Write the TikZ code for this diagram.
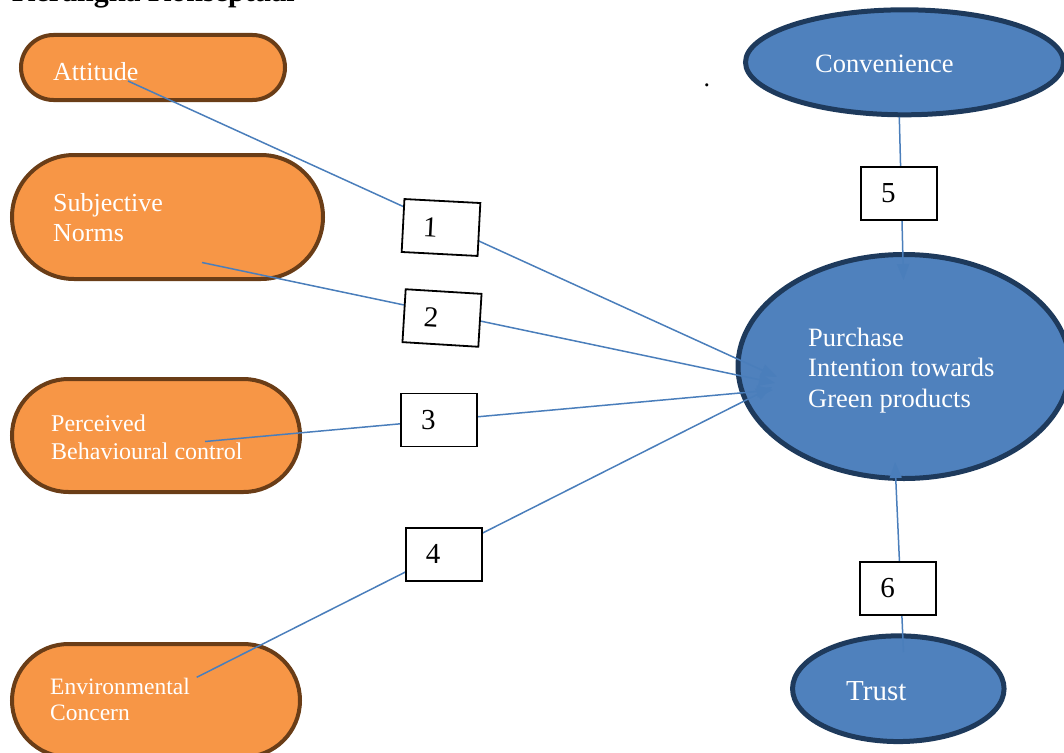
\documentclass[tikz,border=0pt]{standalone}
\usepackage{fontspec}
\setmainfont{Liberation Serif}
\usetikzlibrary{shapes.geometric,arrows.meta}
\definecolor{orfill}{HTML}{F79646}
\definecolor{orline}{HTML}{6A3D17}
\definecolor{blfill}{HTML}{4F81BD}
\definecolor{blline}{HTML}{1E3A5C}
\definecolor{conn}{HTML}{4A7EBB}
\tikzset{
  pill/.style={draw=orline, fill=orfill, line width=4pt, rounded corners=#1, inner sep=0pt},
  oval/.style={ellipse, draw=blline, fill=blfill, line width=5pt, inner sep=0pt},
  lbl/.style={text=white, anchor=base west, inner sep=0pt, align=left},
  numbox/.style={draw=black, fill=white, line width=1.8pt, minimum width=76pt, minimum height=53pt,
    inner xsep=20pt, inner ysep=0pt, text width=36pt, align=left, font=\fontsize{29}{30}\selectfont},
  conline/.style={draw=conn, line width=1.5pt},
  conarrow/.style={conline, -{Triangle[length=16pt,width=12pt]}}
}
\begin{document}
\begin{tikzpicture}[x=1pt,y=-1pt]
\useasboundingbox (0,0) rectangle (1064,752);
\clip (0,0) rectangle (1064,752);
% title (cut off at top)
\node[anchor=base west, inner sep=0pt, font=\fontsize{30}{32}\selectfont\bfseries] (title) at (12,2) {Kerangka Konseptual};
% left shapes
\node[pill=32.5pt, minimum width=264pt, minimum height=65pt] (att) at (153,67.5) {};
\node[pill=62pt, minimum width=311pt, minimum height=124pt] (sub) at (167.5,217) {};
\node[pill=56.5pt, minimum width=288pt, minimum height=113pt] (pbc) at (156,435.5) {};
\node[pill=56.5pt, minimum width=288pt, minimum height=113pt] (env) at (156,700.5) {};
% right ovals
\node[oval, minimum width=318pt, minimum height=105pt] (conv) at (904.5,62.3) {};
\node[oval, minimum width=332pt, minimum height=224pt] (pi) at (904,366.5) {};
\node[oval, minimum width=211.5pt, minimum height=105.7pt] (trust) at (898.3,688.7) {};
% labels (anchor = baseline of last line)
\node[lbl, font=\fontsize{26}{30}\selectfont] (attl) at (53,80.5) {Attitude};
\node[lbl, font=\fontsize{26}{30}\selectfont] (subl) at (53,241.7) {Subjective\\Norms};
\node[lbl, font=\fontsize{24}{28}\selectfont] (pbcl) at (51,459) {Perceived\\Behavioural control};
\node[lbl, font=\fontsize{23.5}{26}\selectfont] (envl) at (50,720) {Environmental\\Concern};
\node[lbl, font=\fontsize{26.5}{30}\selectfont] (convl) at (815,72.7) {Convenience};
\node[lbl, font=\fontsize{26.5}{30.5}\selectfont] (pil) at (808,407) {Purchase\\Intention towards\\Green products};
\node[lbl, font=\fontsize{29}{30}\selectfont] (trustl) at (846,700) {Trust};
\node[anchor=base west, inner sep=0pt, font=\fontsize{26}{30}\selectfont] (dot) at (703.5,86) {.};
% connector end points
\coordinate (a1) at (128,81);
\coordinate (t1) at (777,377);
\coordinate (a2) at (202,262.5);
\coordinate (t2) at (775,383);
\coordinate (a3) at (205,441.5);
\coordinate (t3) at (773,390);
\coordinate (a4) at (196.7,677.3);
\coordinate (t4) at (772,387);
\coordinate (a5) at (899.3,117);
\coordinate (t5) at (903.5,280);
\coordinate (a6) at (903.5,652);
\coordinate (t6) at (895,462);
% connectors
\draw[conarrow] (a1) -- (t1);
\draw[conarrow] (a2) -- (t2);
\draw[conarrow] (a3) -- (t3);
\draw[conarrow] (a4) -- (t4);
\draw[conarrow] (a5) -- (t5);
\draw[conarrow] (a6) -- (t6);
% number boxes
\node[numbox, rotate=-3] (b1) at (441,227.5) {1};
\node[numbox, rotate=-3.5] (b2) at (442,318) {2};
\node[numbox] (b3) at (439.2,420) {3};
\node[numbox] (b4) at (443.8,554.2) {4};
\node[numbox] (b5) at (899.2,193.3) {5};
\node[numbox] (b6) at (898.3,588.3) {6};
\end{tikzpicture}
\end{document}
